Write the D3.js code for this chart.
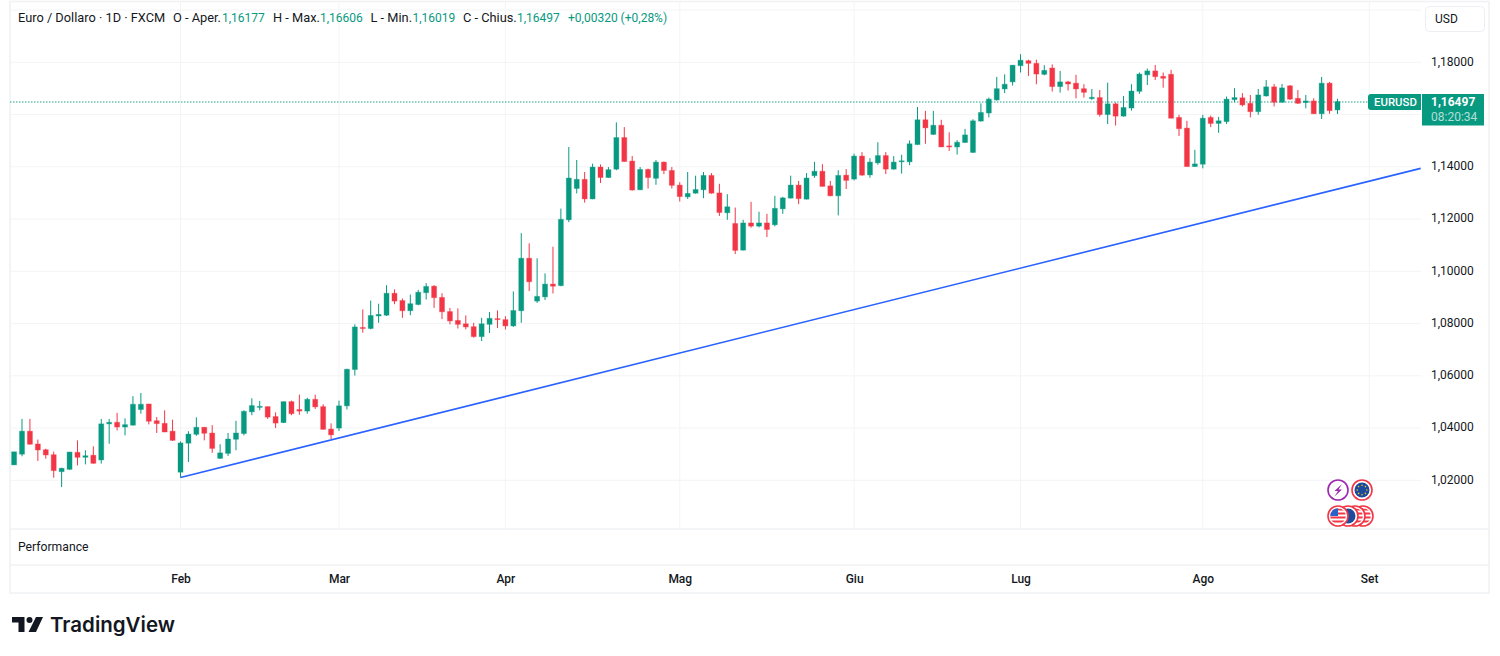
<!DOCTYPE html>
<html><head><meta charset="utf-8">
<script src="https://cdn.jsdelivr.net/npm/d3@7"></script>
<style>html,body{margin:0;padding:0;background:#fff}svg{display:block}text{font-family:Roboto,sans-serif}</style>
</head><body><div id="c"></div>
<script>
const firstBar=-21;
const opens=[1.0259,1.0300,1.0388,1.0339,1.0317,1.0298,1.0233,1.0242,1.0307,1.0288,
1.0296,1.0278,1.0416,1.0422,1.0404,1.0411,1.0471,1.0492,1.0428,1.0418,
1.0388,1.0231,1.0342,1.0376,1.0403,1.0381,1.0284,1.0303,1.0357,1.0379,
1.0462,1.0479,1.0482,1.0444,1.0421,1.0501,1.0471,1.0465,1.0510,1.0482,
1.0396,1.0400,1.0485,1.0624,1.0785,1.0781,1.0829,1.0832,1.0916,1.0888,
1.0849,1.0873,1.0918,1.0943,1.0900,1.0846,1.0812,1.0799,1.0788,1.0750,
1.0797,1.0819,1.0815,1.0791,1.0849,1.1050,1.0886,1.0902,1.0951,1.0945,
1.1197,1.1317,1.1352,1.1277,1.1399,1.1359,1.1391,1.1512,1.1422,1.1312,
1.1390,1.1356,1.1418,1.1386,1.1330,1.1285,1.1299,1.1312,1.1367,1.1300,
1.1224,1.1183,1.1081,1.1185,1.1173,1.1185,1.1178,1.1239,1.1280,1.1330,
1.1276,1.1366,1.1383,1.1327,1.1289,1.1368,1.1353,1.1441,1.1369,1.1415,
1.1443,1.1391,1.1419,1.1419,1.1485,1.1580,1.1524,1.1559,1.1480,1.1476,
1.1493,1.1455,1.1575,1.1606,1.1656,1.1698,1.1725,1.1787,1.1806,1.1796,
1.1754,1.1778,1.1707,1.1725,1.1720,1.1699,1.1661,1.1665,1.1600,1.1641,
1.1594,1.1625,1.1689,1.1752,1.1767,1.1746,1.1754,1.1589,1.1548,1.1401,
1.1410,1.1589,1.1566,1.1573,1.1657,1.1664,1.1643,1.1611,1.1671,1.1706,
1.1647,1.1710,1.1662,1.1646,1.1652,1.1603,1.1720,1.16177];
const highs=[1.0309,1.0435,1.0435,1.0356,1.0321,1.0310,1.0248,1.0309,1.0353,1.0315,
1.0330,1.0435,1.0435,1.0458,1.0437,1.0522,1.0534,1.0493,1.0442,1.0468,
1.0432,1.0349,1.0388,1.0441,1.0404,1.0411,1.0338,1.0381,1.0428,1.0468,
1.0514,1.0504,1.0483,1.0460,1.0501,1.0505,1.0528,1.0516,1.0528,1.0491,
1.0418,1.0505,1.0627,1.0797,1.0854,1.0888,1.0876,1.0947,1.0931,1.0896,
1.0911,1.0929,1.0955,1.0947,1.0916,1.0860,1.0858,1.0831,1.0803,1.0822,
1.0844,1.0850,1.0828,1.0923,1.1146,1.1107,1.1050,1.0992,1.1094,1.1240,
1.1476,1.1426,1.1380,1.1412,1.1409,1.1399,1.1570,1.1552,1.1441,1.1399,
1.1393,1.1426,1.1420,1.1399,1.1341,1.1380,1.1366,1.1380,1.1376,1.1335,
1.1295,1.1244,1.1197,1.1266,1.1228,1.1220,1.1289,1.1285,1.1366,1.1346,
1.1376,1.1419,1.1410,1.1346,1.1387,1.1391,1.1450,1.1456,1.1433,1.1494,
1.1456,1.1441,1.1446,1.1501,1.1629,1.1614,1.1614,1.1580,1.1532,1.1502,
1.1545,1.1582,1.1643,1.1665,1.1744,1.1754,1.1789,1.1831,1.1810,1.1810,
1.1789,1.1792,1.1767,1.1729,1.1752,1.1716,1.1698,1.1694,1.1722,1.1646,
1.1671,1.1716,1.1761,1.1776,1.1790,1.1761,1.1771,1.1599,1.1576,1.1465,
1.1599,1.1596,1.1591,1.1669,1.1701,1.1682,1.1675,1.1698,1.1732,1.1717,
1.1717,1.1713,1.1694,1.1675,1.1662,1.1744,1.1725,1.16606];
const lows=[1.0259,1.0292,1.0337,1.0274,1.0283,1.0210,1.0174,1.0240,1.0257,1.0261,
1.0264,1.0264,1.0340,1.0391,1.0372,1.0409,1.0455,1.0414,1.0381,1.0384,
1.0351,1.0210,1.0270,1.0370,1.0353,1.0305,1.0282,1.0293,1.0315,1.0372,
1.0449,1.0468,1.0435,1.0400,1.0419,1.0449,1.0451,1.0455,1.0473,1.0394,
1.0358,1.0389,1.0471,1.0601,1.0765,1.0778,1.0803,1.0829,1.0874,1.0822,
1.0832,1.0870,1.0892,1.0860,1.0817,1.0797,1.0781,1.0778,1.0746,1.0733,
1.0764,1.0783,1.0777,1.0787,1.0803,1.0924,1.0879,1.0890,1.0915,1.0943,
1.1188,1.1298,1.1263,1.1276,1.1338,1.1358,1.1387,1.1420,1.1309,1.1311,
1.1317,1.1331,1.1372,1.1317,1.1267,1.1277,1.1297,1.1280,1.1297,1.1212,
1.1197,1.1066,1.1080,1.1167,1.1168,1.1131,1.1172,1.1220,1.1279,1.1257,
1.1275,1.1358,1.1325,1.1287,1.1214,1.1315,1.1348,1.1366,1.1358,1.1408,
1.1372,1.1389,1.1374,1.1406,1.1484,1.1488,1.1522,1.1476,1.1461,1.1447,
1.1492,1.1453,1.1573,1.1589,1.1653,1.1682,1.1711,1.1761,1.1748,1.1716,
1.1750,1.1688,1.1684,1.1692,1.1662,1.1665,1.1656,1.1592,1.1564,1.1558,
1.1592,1.1615,1.1679,1.1713,1.1732,1.1703,1.1586,1.1518,1.1400,1.1400,
1.1394,1.1552,1.1530,1.1564,1.1647,1.1631,1.1589,1.1599,1.1669,1.1631,
1.1646,1.1656,1.1641,1.1624,1.1603,1.1583,1.1603,1.16019];
const closes=[1.0309,1.0388,1.0338,1.0316,1.0297,1.0237,1.0246,1.0308,1.0288,1.0294,
1.0265,1.0416,1.0422,1.0404,1.0413,1.0491,1.0491,1.0426,1.0417,1.0385,
1.0353,1.0343,1.0377,1.0403,1.0380,1.0322,1.0305,1.0358,1.0381,1.0464,
1.0486,1.0483,1.0442,1.0419,1.0501,1.0455,1.0465,1.0510,1.0481,1.0395,
1.0374,1.0485,1.0625,1.0787,1.0781,1.0831,1.0835,1.0916,1.0886,1.0849,
1.0876,1.0920,1.0942,1.0899,1.0845,1.0810,1.0797,1.0787,1.0750,1.0799,
1.0820,1.0815,1.0791,1.0850,1.1050,1.0960,1.0904,1.0951,1.0943,1.1199,
1.1357,1.1352,1.1277,1.1399,1.1359,1.1389,1.1512,1.1420,1.1311,1.1390,
1.1359,1.1418,1.1386,1.1329,1.1286,1.1298,1.1313,1.1367,1.1299,1.1225,
1.1247,1.1080,1.1185,1.1173,1.1185,1.1160,1.1241,1.1281,1.1330,1.1278,
1.1357,1.1383,1.1325,1.1289,1.1367,1.1348,1.1441,1.1368,1.1418,1.1443,
1.1391,1.1418,1.1423,1.1488,1.1580,1.1549,1.1559,1.1476,1.1476,1.1494,
1.1522,1.1576,1.1608,1.1659,1.1699,1.1716,1.1789,1.1808,1.1796,1.1755,
1.1769,1.1707,1.1725,1.1717,1.1698,1.1685,1.1666,1.1600,1.1641,1.1594,
1.1627,1.1690,1.1755,1.1767,1.1745,1.1739,1.1586,1.1546,1.1401,1.1411,
1.1586,1.1566,1.1576,1.1659,1.1665,1.1637,1.1611,1.1675,1.1706,1.1647,
1.1702,1.1659,1.1643,1.1652,1.1603,1.1720,1.1615,1.16497];
const monthBars=[0,20,41,63,85,106,129,150];
const monthLabels=["Feb","Mar","Apr","Mag","Giu","Lug","Ago","Set"];
const priceTicks=[1.02,1.04,1.06,1.08,1.10,1.12,1.14,1.16,1.18,1.20];
const priceLabelTicks=[1.02,1.04,1.06,1.08,1.10,1.12,1.14,1.18];
const trendBars=[0,156.5];
const trendPrices=[1.0211,1.1394];
const lastPrice=1.16497;
const legendTexts=["Euro / Dollaro · 1D · FXCM","O - Aper.","1,16177","H - Max.","1,16606","L - Min.","1,16019","C - Chius.","1,16497","+0,00320 (+0,28%)"];

const UP="#089981",DOWN="#F23645",GRID="#f3f4f6",BORDER="#f1f2f4",INK="#131722";
const W=1500,H=656,L=10,R=1421,RR=1489,T=1.5,PB=529,PERF=565,B=593;
const x=d3.scaleLinear().domain([0,150]).range([180.5,1369.2]);
const y=d3.scaleLinear().domain([1.02,1.18]).range([480.3,62.3]);
const svg=d3.select("#c").append("svg").attr("width",W).attr("height",H);
svg.append("rect").attr("width",W).attr("height",H).attr("fill","#fff");

// panel lines
const g0=svg.append("g").attr("stroke",BORDER).attr("fill","none").attr("stroke-width",1.6);
g0.append("rect").attr("x",L).attr("y",T).attr("width",RR-L).attr("height",B-T);
g0.append("line").attr("x1",L).attr("x2",RR).attr("y1",PB).attr("y2",PB);
g0.append("line").attr("x1",L).attr("x2",RR).attr("y1",PERF).attr("y2",PERF);

// grid
const grid=svg.append("g").attr("stroke",GRID);
grid.selectAll(".h").data(priceTicks).join("line").attr("x1",L).attr("x2",R).attr("y1",d=>y(d)).attr("y2",d=>y(d));
grid.selectAll(".v").data(monthBars).join("line").attr("x1",d=>x(d)).attr("x2",d=>x(d)).attr("y1",T).attr("y2",PB);

// y axis
const fmt=d=>d.toFixed(5).replace(".",",");
const ya=svg.append("g").attr("transform",`translate(${R+10},-1)`).call(d3.axisRight(y).tickValues(priceLabelTicks).tickFormat(fmt).tickSize(0).tickPadding(0));
ya.select(".domain").remove();
ya.selectAll("text").attr("font-size",12).attr("fill",INK).style("font-family","Roboto");

// x axis
const xa=svg.append("g").attr("transform",`translate(0,${PERF+14})`).call(d3.axisBottom(x).tickValues(monthBars).tickFormat((d,i)=>monthLabels[i]).tickSize(0).tickPadding(0));
xa.select(".domain").remove();
xa.selectAll("text").attr("dy","0.35em").attr("y",0).attr("font-size",12).attr("font-weight",500).attr("fill",INK).style("font-family","Roboto");

// last price line
svg.append("line").attr("x1",L).attr("x2",R).attr("y1",102).attr("y2",102)
 .attr("stroke",UP).attr("stroke-dasharray","1.5 1.5").attr("stroke-opacity",.6).attr("stroke-width",1.4);

// candles
const bars=opens.map((o,i)=>({i:i+firstBar,o,h:highs[i],l:lows[i],c:closes[i]}));
const gc=svg.append("g");
const col=d=>d.c>=d.o?UP:DOWN;
gc.selectAll(".w").data(bars).join("line").attr("x1",d=>x(d.i)).attr("x2",d=>x(d.i)).attr("y1",d=>y(d.h)).attr("y2",d=>y(d.l)).attr("stroke",col).attr("stroke-width",1);
gc.selectAll(".b").data(bars).join("rect").attr("x",d=>x(d.i)-2.5).attr("width",5).attr("y",d=>y(Math.max(d.o,d.c))).attr("height",d=>Math.max(1,Math.abs(y(d.o)-y(d.c)))).attr("fill",col).attr("stroke",col).attr("stroke-opacity",.35).attr("stroke-width",1);

// trend line
svg.append("line").attr("x1",x(trendBars[0])).attr("x2",x(trendBars[1])).attr("y1",y(trendPrices[0])).attr("y2",y(trendPrices[1]))
 .attr("stroke","#2962FF").attr("stroke-width",1.6);

// legend
const legendX=[18,173,222,273,320,370.5,412.5,463,517,568];
legendTexts.forEach((t,i)=>{
 const isVal=i===2||i===4||i===6||i===8||i===9;
 svg.append("text").attr("x",legendX[i]).attr("y",22).attr("font-size",isVal?12:12.8).attr("fill",isVal?UP:INK).text(t);
});

// USD button
svg.append("rect").attr("x",1425.5).attr("y",6.5).attr("width",59).attr("height",25).attr("rx",4).attr("fill","#fff").attr("stroke","#eceef2");
svg.append("text").attr("x",1435).attr("y",23).attr("font-size",12).attr("fill",INK).text("USD");

// price tags
svg.append("path").attr("d",`M${R},94H1371a3,3 0 0 0 -3,3v10a3,3 0 0 0 3,3H${R}Z`).attr("fill",UP);
svg.append("text").attr("x",1374).attr("y",106).attr("font-size",11.4).attr("font-weight",500).attr("fill","#fff").text("EURUSD");
svg.append("path").attr("d","M1422,94H1484v31.5H1422Z").attr("fill",UP);
svg.append("text").attr("x",1431).attr("y",106).attr("font-size",12).attr("font-weight",700).attr("fill","#fff").text(fmt(lastPrice));
svg.append("text").attr("x",1431).attr("y",121).attr("font-size",12).attr("fill","#fff").attr("fill-opacity",.7).text("08:20:34");

// event icons
const ev=svg.append("g");
function ring(cx,cy,c){ev.append("circle").attr("cx",cx).attr("cy",cy).attr("r",10).attr("fill","#fff").attr("stroke",c).attr("stroke-width",1.6);}
ring(1338,490,"#9c27b0");
ev.append("path").attr("d","M1342,484L1334.5,491H1338L1334.5,496.5L1342,489.5H1338.5Z").attr("fill","#9c27b0");
ring(1362,490,"#f23645");
ev.append("circle").attr("cx",1362).attr("cy",490).attr("r",7.5).attr("fill","#1c4a9c");
d3.range(8).forEach(k=>{const a=k*Math.PI/4;ev.append("circle").attr("cx",1362+4.8*Math.cos(a)).attr("cy",490+4.8*Math.sin(a)).attr("r",.8).attr("fill","#f5c518");});
function us(cx,cy,key){
 ring(cx,cy,"#f23645");
 const id="cl"+key;
 svg.append("clipPath").attr("id",id).append("circle").attr("cx",cx).attr("cy",cy).attr("r",7.8);
 const f=ev.append("g").attr("clip-path",`url(#${id})`);
 d3.range(4).forEach(k=>f.append("rect").attr("x",cx-8).attr("y",cy-7.5+k*4).attr("width",16).attr("height",2).attr("fill","#f23645"));
 f.append("rect").attr("x",cx-8).attr("y",cy-8).attr("width",8).attr("height",8).attr("fill","#2962c8");
}
us(1363,516,"d");us(1355,516,"c");
ring(1348,516,"#f23645");
ev.append("circle").attr("cx",1348).attr("cy",516).attr("r",7.5).attr("fill","#1c4a9c");
us(1338,516,"a");

// footer text
svg.append("text").attr("x",18).attr("y",551).attr("font-size",12.2).attr("fill",INK).text("Performance");

// logo
const lo=svg.append("g").attr("fill","#131722");
lo.append("path").attr("d","M12,617H24.5V632H18.5V622.5H12Z");
lo.append("circle").attr("cx",29.5).attr("cy",620).attr("r",3);
lo.append("path").attr("d","M36,617H43L36,632H28.5Z");
svg.append("text").attr("x",50).attr("y",632).attr("font-size",20.5).attr("font-weight",600).attr("fill","#131722").style("font-family","Inter").text("TradingView");
</script></body></html>
